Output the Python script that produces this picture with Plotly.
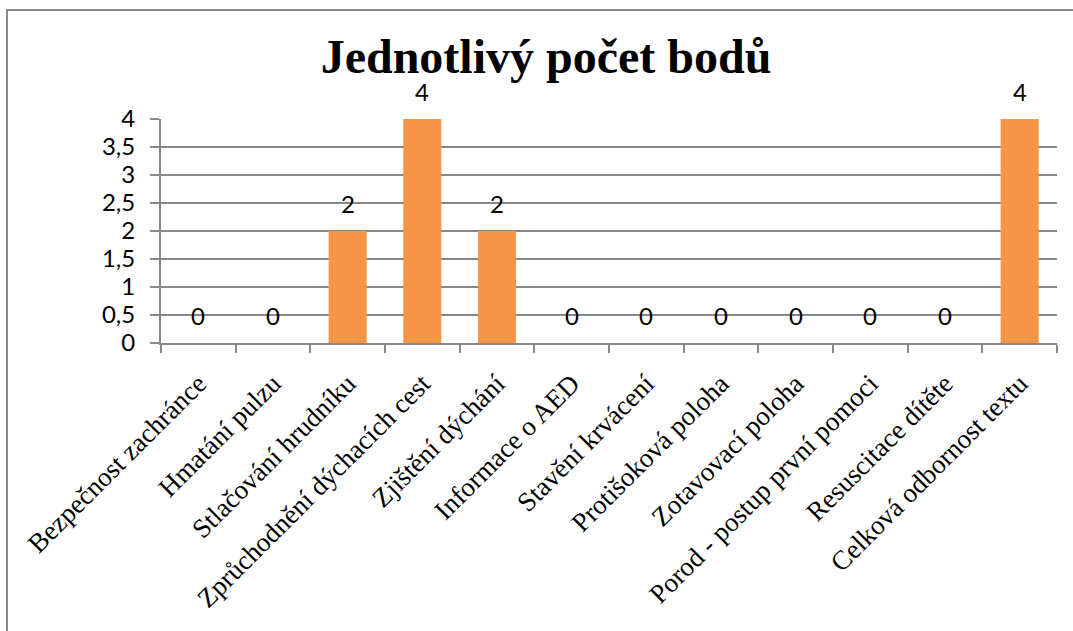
import plotly.graph_objects as go

# Categories and point scores
categories = [
    "Bezpečnost zachránce",
    "Hmatání pulzu",
    "Stlačování hrudníku",
    "Zprůchodnění dýchacích cest",
    "Zjištění dýchání",
    "Informace o AED",
    "Stavění krvácení",
    "Protišoková poloha",
    "Zotavovací poloha",
    "Porod - postup první pomoci",
    "Resuscitace dítěte",
    "Celková odbornost textu",
]
scores = [0, 0, 2, 4, 2, 0, 0, 0, 0, 0, 0, 4]
y_ticks = [0, 0.5, 1, 1.5, 2, 2.5, 3, 3.5, 4]

W, H = 1073, 631
L, R, T, B = 161, 16, 119, 288
pw, ph = W - L - R, H - T - B

bar_color = "#F79646"
grid_color = "#878787"
num_font = dict(family="Lato", size=24, color="#000000")

fig = go.Figure(
    go.Bar(
        x=categories,
        y=scores,
        marker=dict(color=bar_color, line=dict(width=0)),
        hoverinfo="x+y",
    )
)

# value labels above each bar
annotations = [
    dict(
        x=c, y=v, xref="x", yref="y", text=str(v), showarrow=False,
        yshift=28, font=num_font,
    )
    for c, v in zip(categories, scores)
]

# outer chart frame (pixel positions converted to paper units)
def px_x(px):
    return (px - L) / pw

def px_y(py):
    return (H - B - py) / ph

frame = dict(
    type="rect", xref="paper", yref="paper",
    x0=px_x(7), x1=px_x(1085), y0=px_y(645), y1=px_y(10),
    line=dict(color="#8C8C8C", width=2), fillcolor="rgba(0,0,0,0)",
    layer="below",
)

fig.update_layout(
    width=W, height=H,
    margin=dict(l=L, r=R, t=T, b=B, autoexpand=False),
    paper_bgcolor="white", plot_bgcolor="white",
    separators=", ",
    bargap=0.49,
    showlegend=False,
    title=dict(
        text="<b>Jednotlivý počet bodů</b>",
        x=546 / W, xref="container", xanchor="center",
        y=1 - 56 / H, yref="container", yanchor="middle",
        font=dict(family="Liberation Serif", size=48, color="#000000"),
    ),
    annotations=annotations,
    shapes=[frame],
)

fig.update_xaxes(
    type="category",
    tickangle=-45,
    tickson="boundaries",
    ticks="outside", ticklen=8, tickcolor=grid_color, tickwidth=2,
    showline=True, linecolor=grid_color, linewidth=2,
    showgrid=False,
    ticklabelstandoff=12,
    tickfont=dict(family="Liberation Serif", size=27, color="#000000"),
    automargin=False,
)

fig.update_yaxes(
    range=[0, 4],
    tickvals=y_ticks,
    ticks="outside", ticklen=9, tickcolor=grid_color, tickwidth=2,
    showline=True, linecolor=grid_color, linewidth=2,
    showgrid=True, gridcolor=grid_color, gridwidth=2,
    zeroline=False,
    ticklabelstandoff=10,
    tickfont=num_font,
    automargin=False,
)

fig.write_html("out.html")
